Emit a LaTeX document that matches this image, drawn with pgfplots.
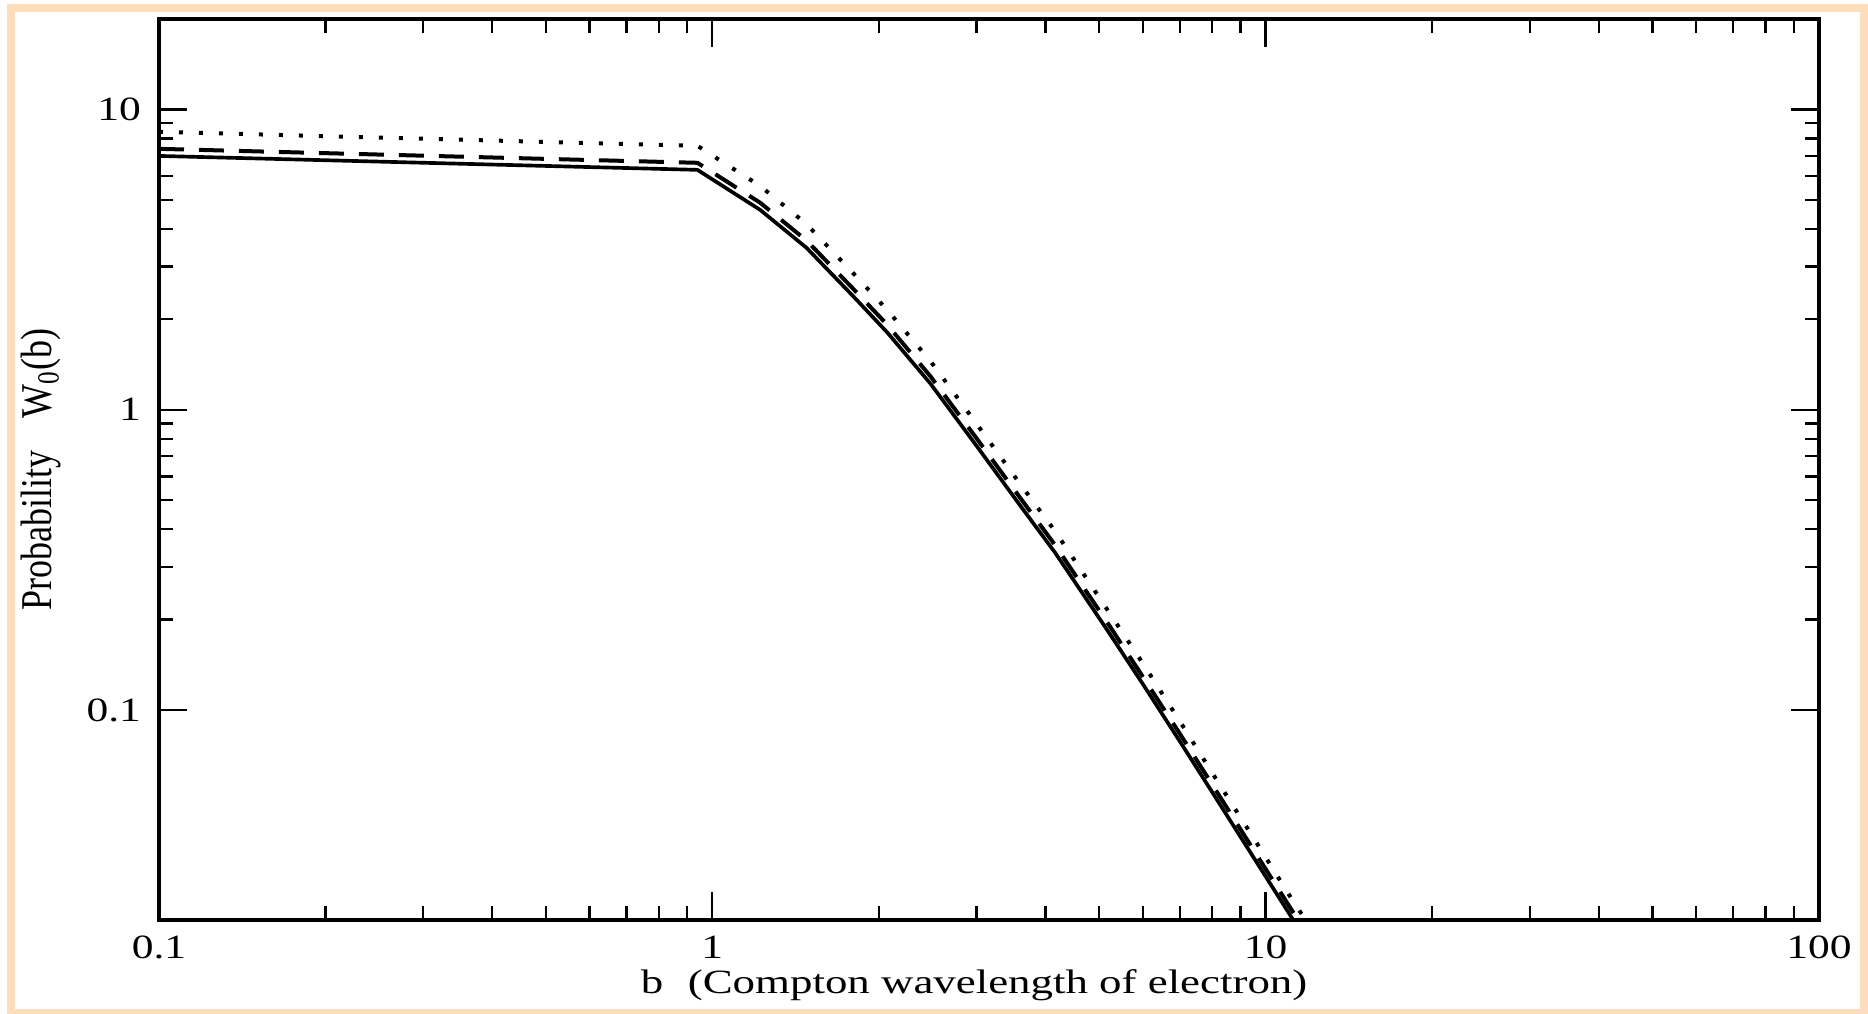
\documentclass[border=0pt]{standalone}
\usepackage{fontspec}
\setmainfont{Liberation Serif}
\usepackage{graphicx}
\usepackage{pgfplots}
\pgfplotsset{compat=1.18}
\definecolor{peach}{RGB}{253,221,187}
\newcommand{\tl}[1]{\scalebox{1.28}[1]{#1}}

\begin{document}
\begin{tikzpicture}
\useasboundingbox (-47.7pt,-28.2pt) rectangle (512.7pt,276pt);
\begin{axis}[
  at={(0,0)}, anchor=south west,
  scale only axis, width=498pt, height=270.3pt,
  xmode=log, ymode=log,
  xmin=0.1, xmax=100, ymin=0.02, ymax=20,
  xtick={0.1,1,10,100}, xticklabels={\tl{0.1},\tl{1},\tl{10},\tl{100}},
  ytick={0.1,1,10}, yticklabels={\tl{0.1},\tl{1},\tl{10}},
  tick align=inside,
  major tick length=8.5pt, minor tick length=4.2pt,
  every tick/.style={black, line width=0.7pt},
  separate axis lines,
  axis line style={line width=1.2pt, line cap=rect},
  xticklabel style={font=\fontsize{10.2}{12}\selectfont, inner sep=0pt, yshift=-4.5pt},
  yticklabel style={font=\fontsize{10.2}{12}\selectfont, inner sep=0pt, xshift=-5.2pt},
  xlabel={\scalebox{1.32}[1]{b\hspace{0.55em}(Compton wavelength of electron)}},
  xlabel style={at={(axis description cs:0.491,0)}, anchor=base, yshift=-22.2pt,
    inner sep=0pt, font=\fontsize{10.2}{12}\selectfont},
  ylabel={\scalebox{1}[1.22]{Probability\hspace{0.9em}W\textsubscript{0}(b)}},
  ylabel style={at={([xshift=-32.1pt]axis description cs:0,0.5)}, anchor=base,
    inner sep=0pt, font=\fontsize{10.8}{13}\selectfont},
]
% solid
\addplot[black, line width=1.1pt] coordinates {
  (0.1,7.0) (0.94,6.29) (1.22,4.63) (1.48,3.46) (1.8,2.38) (2.07,1.81)
  (2.48,1.22) (3.0,0.76) (3.6,0.48) (4.16,0.335) (4.49,0.272) (5.2,0.182)
  (6.0,0.122) (7.06,0.0767) (8.1,0.0515) (9.5,0.0324) (11.16,0.0203) (12,0.0165)
};
% dashed
\addplot[black, line width=1.2pt, dash pattern=on 7.5pt off 4.5pt] coordinates {
  (0.1,7.39) (0.94,6.64) (1.22,4.89) (1.48,3.66) (1.8,2.52) (2.07,1.92)
  (2.48,1.29) (3.0,0.805) (3.6,0.509) (4.16,0.355) (4.49,0.288) (5.2,0.193)
  (6.0,0.129) (7.06,0.0813) (8.1,0.0546) (9.5,0.0343) (11.16,0.0215) (12,0.0175)
};
% dotted
\addplot[black, line width=1.2pt, dash pattern=on 1.2pt off 4.8pt] coordinates {
  (0.1,8.42) (0.94,7.56) (1.22,5.56) (1.48,4.15) (1.8,2.84) (2.07,2.15)
  (2.48,1.45) (3.0,0.90) (3.6,0.566) (4.16,0.395) (4.49,0.320) (5.2,0.213)
  (6.0,0.143) (7.06,0.0894) (8.1,0.0597) (9.5,0.0376) (11.16,0.0234) (12,0.0191)
};
\end{axis}
\draw[peach, line width=2.4pt] (-44.4pt,-27.9pt) rectangle (511.5pt,273.6pt);
\end{tikzpicture}
\end{document}
